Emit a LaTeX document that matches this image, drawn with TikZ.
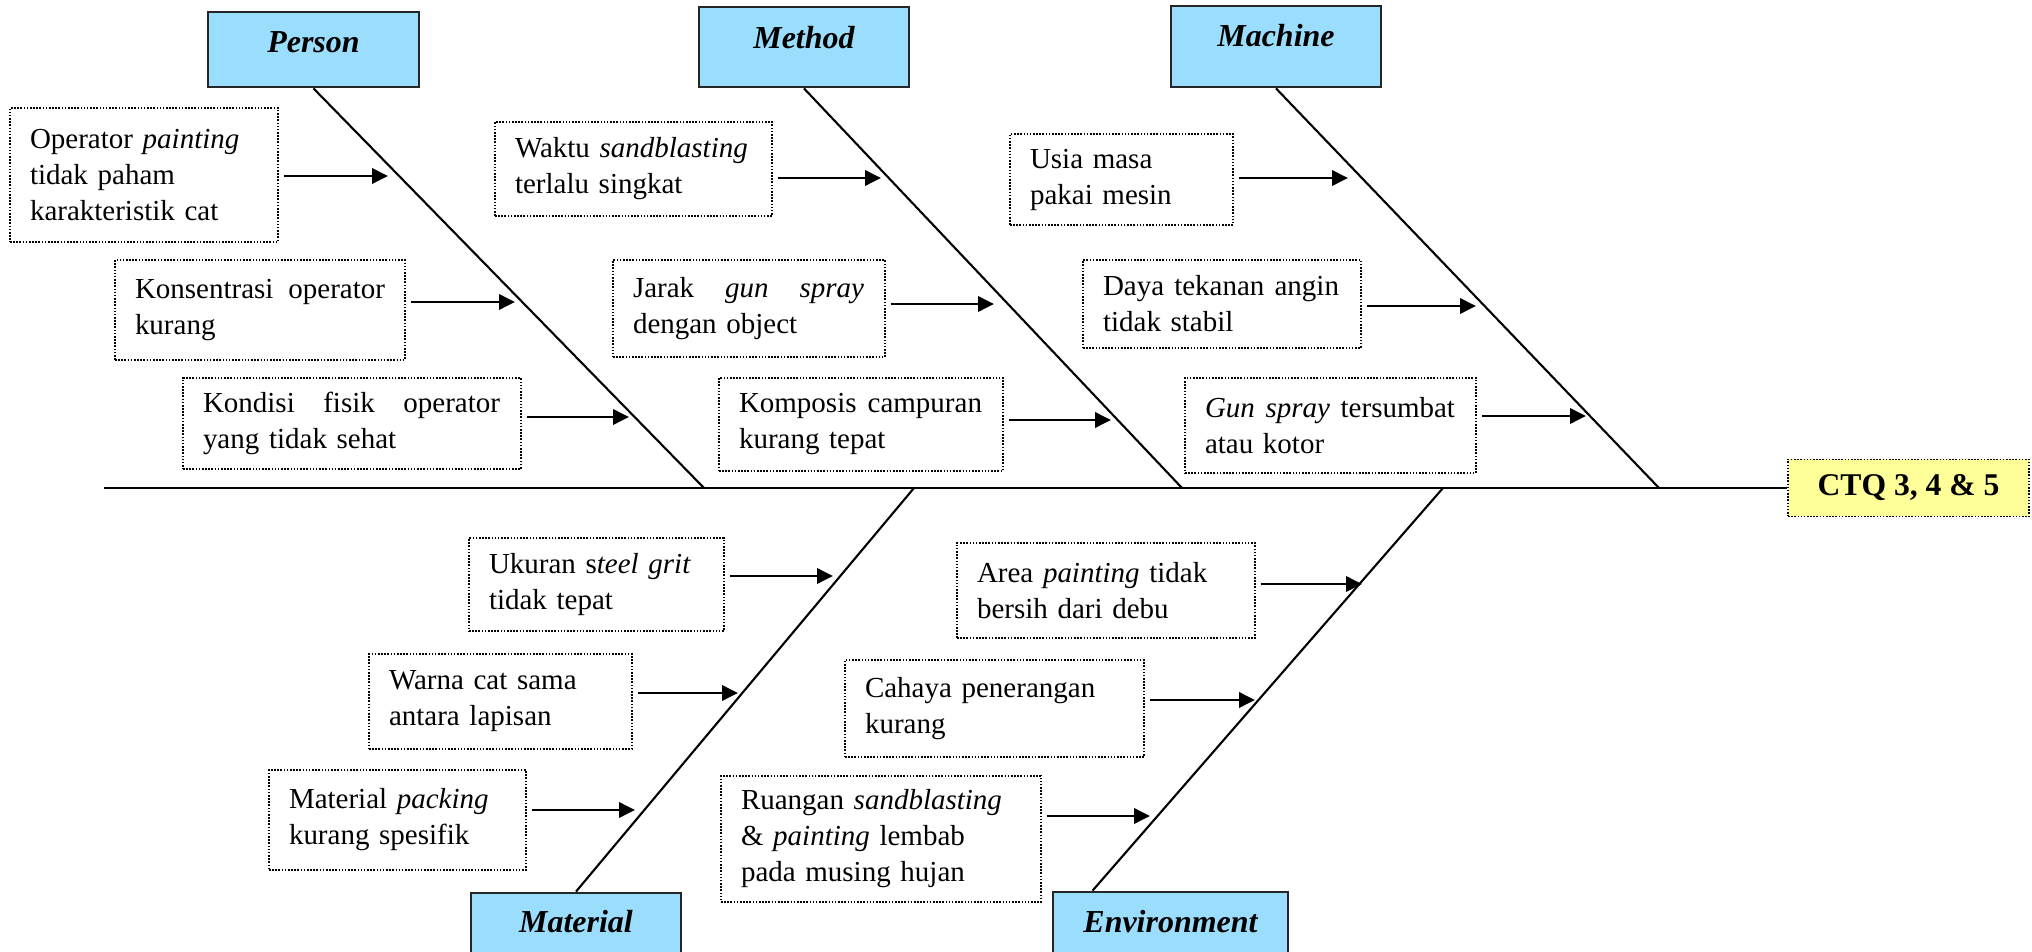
\documentclass[tikz,border=0pt]{standalone}
\usepackage{fontspec}
\setmainfont{Liberation Serif}
\usetikzlibrary{arrows.meta}
\definecolor{catblue}{RGB}{155,221,252}
\definecolor{ctqyellow}{RGB}{255,255,153}
\def\causefont{\fontsize{8.25}{10.24}\selectfont}
\def\catfont{\fontsize{9.1}{11}\selectfont\bfseries\itshape}
\def\fullline#1#2{\hbox to #1{#2}}

\begin{document}
\begin{tikzpicture}[x=0.1mm, y=-0.1mm,
    cause/.style={draw, line width=0.45pt, dash pattern=on 0.45pt off 0.45pt,
      inner xsep=0.2cm, inner ysep=0pt, align=left, font=\causefont},
    cat/.style={draw=black!85, line width=0.8pt, fill=catblue,
      inner sep=0pt, font=\catfont},
    ctq/.style={draw, line width=0.45pt, dash pattern=on 0.45pt off 0.45pt,
      fill=ctqyellow, inner sep=0pt, minimum width=2.41cm, minimum height=0.57cm,
      font=\fontsize{9}{11}\selectfont\bfseries},
    spine/.style={line width=0.85pt},
    bone/.style={line width=0.6pt},
    causearrow/.style={line width=0.75pt, -{Triangle[length=4.5pt,width=4.3pt]},
      shorten <=1.4pt}]
  \useasboundingbox (0,0) rectangle (2032,952);

  % head and spine
  \node[ctq] (ctq) at (1908.5,488) {CTQ 3, 4 \& 5};
  \coordinate (sL) at (104,488);
  \draw[spine] (sL) -- (ctq.west);

  % categories
  \node[cat, minimum width=2.11cm, text height=0.41cm, text depth=0.34cm] (person) at (313.5,49.5) {Person};
  \node[cat, minimum width=2.10cm, text height=0.42cm, text depth=0.38cm] (method) at (804,47) {Method};
  \node[cat, minimum width=2.10cm, text height=0.41cm, text depth=0.40cm] (machine) at (1276,46.5) {Machine};
  \node[cat, minimum width=2.10cm, text height=0.39cm, text depth=0.40cm] (material) at (576,932.5) {Material};
  \node[cat, minimum width=2.35cm, text height=0.40cm, text depth=0.40cm] (environment) at (1170.5,932) {Environment};

  \coordinate (pE) at (704,488);
  \coordinate (mE) at (1182,488);
  \coordinate (maE) at (1659,488);
  \coordinate (mtE) at (914,488);
  \coordinate (eE) at (1443,488);
  \draw[bone] (person.south) -- (pE);
  \draw[bone] (method.south) -- (mE);
  \draw[bone] (machine.south) -- (maE);
  \draw[bone] (material.north) -- (mtE);
  \draw[bone] ([xshift=0.41cm]environment.north west) -- (eE);

  % causes
  \node[cause, text width=2.28cm, minimum height=1.34cm] (c1) at (144,175)
    {Operator \textit{painting}\\ tidak paham\\ karakteristik cat};
  \node[cause, text width=2.50cm, minimum height=1.00cm] (c2) at (260,310)
    {\fullline{2.50cm}{Konsentrasi\hfill operator}\\ kurang};
  \node[cause, text width=2.98cm, minimum height=0.91cm] (c3) at (352,423.5)
    {\fullline{2.97cm}{Kondisi\hfill fisik\hfill operator}\\ yang tidak sehat};
  \node[cause, text width=2.37cm, minimum height=0.94cm] (c4) at (633.5,169)
    {Waktu \textit{sandblasting}\\ terlalu singkat};
  \node[cause, text width=2.32cm, minimum height=0.97cm] (c5) at (749,308.5)
    {\fullline{2.31cm}{Jarak\hfill\textit{gun}\hfill\textit{spray}}\\ dengan object};
  \node[cause, text width=2.44cm, minimum height=0.93cm] (c6) at (861,424.5)
    {\fullline{2.43cm}{Komposis\hfill campuran}\\ kurang tepat};
  \node[cause, text width=1.83cm, minimum height=0.91cm] (c7) at (1121.5,179.5)
    {Usia masa\\ pakai mesin};
  \node[cause, text width=2.38cm, minimum height=0.88cm] (c8) at (1222,304)
    {\fullline{2.36cm}{Daya\hfill tekanan\hfill angin}\\ tidak stabil};
  \node[cause, text width=2.51cm, minimum height=0.95cm] (c9) at (1330.5,425.5)
    {\fullline{2.50cm}{\textit{Gun}\hfill\textit{spray}\hfill tersumbat}\\ atau kotor};
  \node[cause, text width=2.15cm, minimum height=0.93cm] (c10) at (596.5,584.5)
    {Ukuran s\textit{teel grit}\\ tidak tepat};
  \node[cause, text width=2.23cm, minimum height=0.95cm] (c11) at (500.5,701.5)
    {Warna cat sama\\ antara lapisan};
  \node[cause, text width=2.17cm, minimum height=1.00cm] (c12) at (397.5,820)
    {Material \textit{packing}\\ kurang spesifik};
  \node[cause, text width=2.58cm, minimum height=0.95cm] (c13) at (1106,590.5)
    {Area \textit{painting} tidak\\ bersih dari debu};
  \node[cause, text width=2.59cm, minimum height=0.97cm] (c14) at (994.5,708.5)
    {Cahaya penerangan\\ kurang};
  \node[cause, text width=2.80cm, minimum height=1.26cm] (c15) at (881,839)
    {Ruangan \textit{sandblasting}\\ \& \textit{painting} lembab\\ pada musing hujan};

  % arrow tips
  \coordinate (t1) at (388,176);
  \coordinate (t2) at (515,302);
  \coordinate (t3) at (629,417);
  \coordinate (t4) at (881,178);
  \coordinate (t5) at (994,304);
  \coordinate (t6) at (1111,420);
  \coordinate (t7) at (1348,178);
  \coordinate (t8) at (1476,306);
  \coordinate (t9) at (1586,416);
  \coordinate (t10) at (833,576);
  \coordinate (t11) at (738,693);
  \coordinate (t12) at (635,810);
  \coordinate (t13) at (1362,584);
  \coordinate (t14) at (1255,700);
  \coordinate (t15) at (1150,816);
  \foreach \i in {1,...,15}{
    \draw[causearrow] (c\i.east |- t\i) -- (t\i);
  }
\end{tikzpicture}
\end{document}
